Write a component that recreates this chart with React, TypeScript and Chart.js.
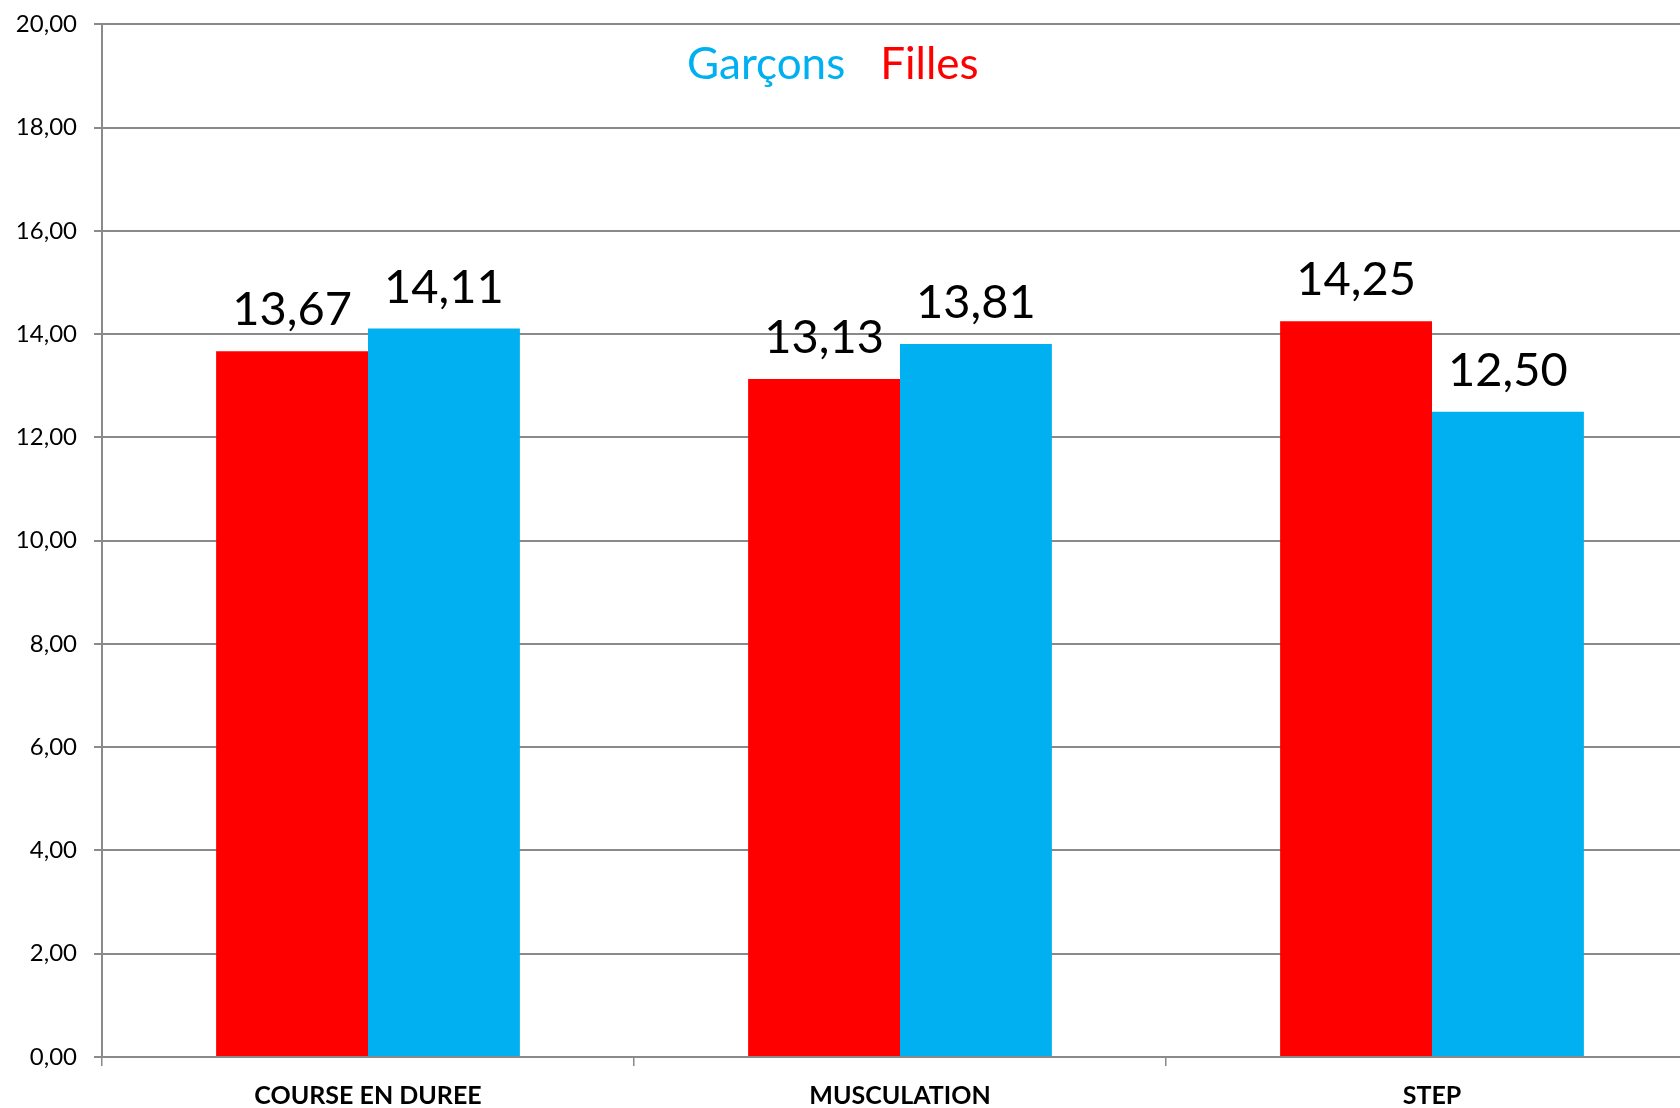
import React, { useEffect, useRef } from "react";
import { Chart, registerables } from "chart.js";

Chart.register(...registerables);

const categories = ["COURSE EN DUREE", "MUSCULATION", "STEP"];
const seriesNames = ["Filles", "Garçons"];
const fillesValues = [13.67, 13.13, 14.25];
const garconsValues = [14.11, 13.81, 12.5];
const seriesColors = ["#FF0000", "#00B0F0"];
const yMin = 0;
const yMax = 20;
const yStep = 2;

const fmt = (v: number) => v.toFixed(2).replace(".", ",");
const GRID = "#8a8a8a";
const FONT = "Lato, 'Open Sans', sans-serif";
const SHIFT = 7;

const valueLabelPlugin = {
  id: "valueLabels",
  afterDatasetsDraw(chart: any) {
    const ctx = chart.ctx;
    ctx.save();
    ctx.font = `47px ${FONT}`;
    ctx.fillStyle = "#000";
    ctx.textAlign = "center";
    ctx.textBaseline = "alphabetic";
    chart.data.datasets.forEach((ds: any, di: number) => {
      const meta = chart.getDatasetMeta(di);
      meta.data.forEach((el: any, i: number) => {
        ctx.fillText(fmt(ds.data[i]), el.x, el.y - 26);
      });
    });
    ctx.restore();
  },
};

const textLegendPlugin = {
  id: "textLegend",
  afterDraw(chart: any) {
    const ctx = chart.ctx;
    ctx.save();
    ctx.font = `44px ${FONT}`;
    ctx.textAlign = "left";
    ctx.textBaseline = "alphabetic";
    let x = 687;
    const y = 79 + SHIFT;
    const items = [...chart.data.datasets].reverse();
    items.forEach((ds: any) => {
      ctx.fillStyle = ds.backgroundColor;
      ctx.fillText(ds.label, x, y);
      x += ctx.measureText(ds.label).width + 35;
    });
    ctx.restore();
  },
};

export default function App() {
  const ref = useRef<HTMLCanvasElement | null>(null);

  useEffect(() => {
    let chart: Chart | null = null;
    let cancelled = false;
    const fontsReady = (document as any).fonts
      ? Promise.all([
          (document as any).fonts.load(`47px Lato`),
          (document as any).fonts.load(`bold 25px Lato`),
        ]).catch(() => null)
      : Promise.resolve(null);
    fontsReady.then(() => {
      if (cancelled || !ref.current) return;
      chart = new Chart(ref.current, {
        type: "bar",
        data: {
          labels: categories,
          datasets: [
            {
              label: seriesNames[0],
              data: fillesValues,
              backgroundColor: seriesColors[0],
              categoryPercentage: 0.571,
              barPercentage: 1,
              borderWidth: 0,
            },
            {
              label: seriesNames[1],
              data: garconsValues,
              backgroundColor: seriesColors[1],
              categoryPercentage: 0.571,
              barPercentage: 1,
              borderWidth: 0,
            },
          ],
        },
        options: {
          responsive: false,
          animation: false,
          devicePixelRatio: 1,
          layout: { padding: { top: 16, right: 2, left: 0, bottom: 0 } },
          plugins: {
            legend: { display: false },
            tooltip: { enabled: false },
          },
          scales: {
            x: {
              afterFit: (s: any) => {
                s.height = 51;
              },
              grid: {
                display: true,
                drawOnChartArea: false,
                drawTicks: true,
                offset: true,
                tickLength: 9,
                color: GRID,
                lineWidth: 1.5,
              },
              border: { display: true, color: GRID, width: 2 },
              ticks: {
                color: "#000",
                padding: 15,
                maxRotation: 0,
                autoSkip: false,
                font: { family: FONT, size: 25, weight: "bold" },
              },
            },
            y: {
              min: yMin,
              max: yMax,
              afterFit: (s: any) => {
                s.width = 102;
              },
              grid: {
                color: GRID,
                lineWidth: 2,
                drawTicks: true,
                tickLength: 8,
              },
              border: { display: true, color: GRID, width: 2 },
              ticks: {
                stepSize: yStep,
                color: "#000",
                padding: 17,
                font: { family: FONT, size: 24 },
                callback: (v: any) => fmt(Number(v)),
              },
            },
          },
        },
        plugins: [valueLabelPlugin, textLegendPlugin],
      } as any);
    });
    return () => {
      cancelled = true;
      if (chart) chart.destroy();
    };
  }, []);

  return (
    <div
      style={{
        position: "fixed",
        left: 0,
        top: 0,
        width: 1680,
        height: 1108,
        overflow: "hidden",
        background: "#fff",
      }}
    >
      <canvas
        ref={ref}
        width={1700}
        height={1108 + SHIFT}
        style={{
          display: "block",
          width: 1700,
          height: 1108 + SHIFT,
          marginTop: -SHIFT,
        }}
      />
    </div>
  );
}
